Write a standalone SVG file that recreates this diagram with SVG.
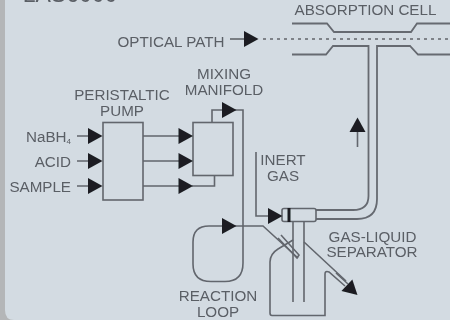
<svg xmlns="http://www.w3.org/2000/svg" width="450" height="320" viewBox="0 0 450 320">
<style>
text{font-family:"Liberation Sans",Arial,sans-serif;font-size:15.2px;fill:#5a5e65;text-anchor:middle}
.e{text-anchor:end}
.l{fill:none;stroke:#62666d;stroke-width:1.6}
.t{fill:none;stroke:#666a71;stroke-width:1.8}
.a{fill:#1c1f23;stroke:none}
</style>
<defs>
<path id="ah" class="a" d="M-7,-8L7.500,0L-7,8Z"/>
<filter id="soft" x="0" y="0" width="100%" height="100%"><feGaussianBlur stdDeviation="0.75"/></filter>
</defs>
<rect width="450" height="320" fill="#d3dbe2"/>
<g filter="url(#soft)">
<path d="M0,0H5V310Q5,320 14,320H0Z" fill="#b4b6b8"/>
<text x="70" y="2" style="font-size:23px">LAS6000</text>
<g id="optical-path"><text x="171" y="47">OPTICAL PATH</text><path class="l" d="M230,39H245"/><use href="#ah" x="251" y="39"/><path d="M263,39H450" fill="none" stroke="#7e8288" stroke-width="1.8" stroke-dasharray="3,4"/></g>
<g id="absorption-cell"><text x="365.500" y="15">ABSORPTION CELL</text><path class="t" d="M292,23.500H327L334,32H411L417,23.500H450"/><path class="t" d="M292,54.500H326L333,46H368.500V196Q368.500,210 353,210H316"/><path class="t" d="M316,219H357Q377,219 377,199V46H410L418,54.500H450"/></g>
<g id="peristaltic-pump"><text x="122" y="100">PERISTALTIC</text><text x="122" y="115.500">PUMP</text><rect class="l" x="103" y="122.500" width="40" height="77.500"/></g>
<g id="mixing-manifold"><text x="224" y="78.500">MIXING</text><text x="224" y="94.500">MANIFOLD</text><rect class="l" x="193" y="122.500" width="40" height="53"/></g>
<g id="nabh4"><text class="e" x="71" y="142">NaBH<tspan font-size="8" dy="2">4</tspan></text></g>
<g id="acid"><text class="e" x="71" y="166.500">ACID</text></g>
<g id="sample"><text class="e" x="71" y="191.500">SAMPLE</text></g>
<g id="reaction-loop"><text x="218" y="301">REACTION</text><text x="218" y="317">LOOP</text><path class="l" d="M222,226H209Q193,226 193,242V264Q193,281.500 211,281.500H225Q243,281.500 243,263V110H235"/></g>
<g id="inert-gas"><text x="283" y="165">INERT</text><text x="283" y="180.500">GAS</text></g>
<g id="gas-liquid-separator"><text x="372.500" y="241.500">GAS-LIQUID</text><text x="372" y="257">SEPARATOR</text><rect class="l" x="282" y="208.500" width="34" height="13" rx="2"/><path d="M289,208V222" stroke="#1c1f23" stroke-width="3"/><path class="l" d="M293,221V302M304,221V302"/><path class="l" d="M293,240L278,249Q270,254 270,262V313Q270,315.500 272,315.500H325V274Q325,270.500 329,272L345,286"/><path class="l" d="M304,242L346,281"/><path class="l" d="M336,273L348,284M278,238L297,258L299,255L281,235"/></g>
<g id="connectors">
<path class="l" d="M77,136H89M77,161H89M77,186H89M143,136H179M143,161H179M143,186H179M192,186H214.500V176M212,122V110H223M256,152V216H268M235,226H263L298,258M357.500,132V147"/>
<use href="#ah" x="95" y="136"/><use href="#ah" x="95" y="161"/><use href="#ah" x="95" y="186"/>
<use href="#ah" x="185.500" y="136"/><use href="#ah" x="185.500" y="161"/><use href="#ah" x="185.500" y="186"/>
<use href="#ah" x="229" y="110"/><use href="#ah" x="229" y="226"/><use href="#ah" x="275" y="216"/>
<use href="#ah" transform="translate(357.500,125) rotate(-90)"/><use href="#ah" transform="translate(352,290) rotate(43)"/>
</g>
</g>
</svg>
